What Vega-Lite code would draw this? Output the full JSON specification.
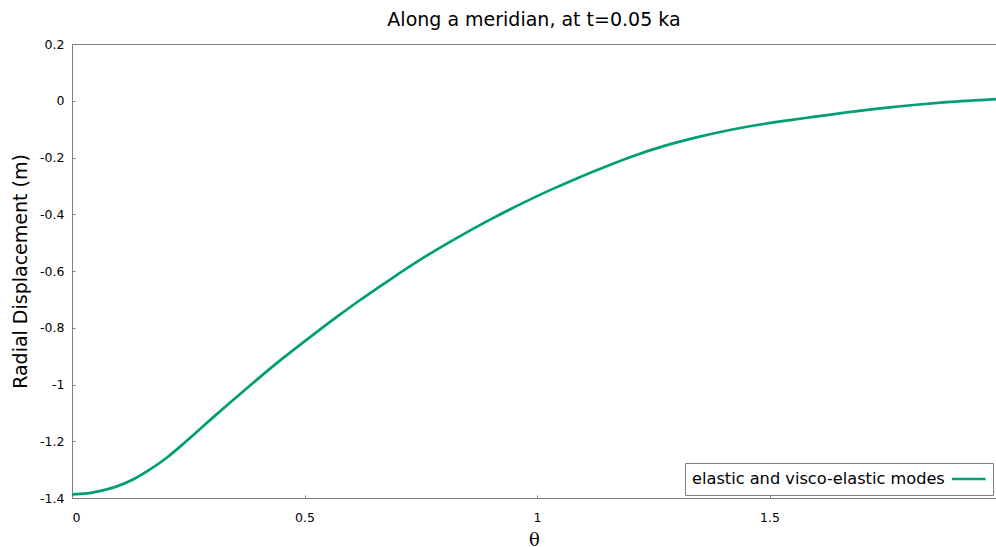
{
  "$schema": "https://vega.github.io/schema/vega-lite/v6.json",
  "width": 924,
  "height": 454,
  "autosize": "none",
  "padding": {"left": 72, "top": 44, "right": 0, "bottom": 49},
  "background": "white",
  "title": {
    "text": "Along a meridian, at t=0.05 ka",
    "font": "DejaVu Sans",
    "fontSize": 19,
    "fontWeight": "normal",
    "color": "#000000",
    "anchor": "middle",
    "offset": 8
  },
  "data": {
    "values": [
      {"theta": 0.000, "disp": -1.387, "series": "elastic and visco-elastic modes"},
      {"theta": 0.032, "disp": -1.384, "series": "elastic and visco-elastic modes"},
      {"theta": 0.059, "disp": -1.376, "series": "elastic and visco-elastic modes"},
      {"theta": 0.095, "disp": -1.360, "series": "elastic and visco-elastic modes"},
      {"theta": 0.131, "disp": -1.335, "series": "elastic and visco-elastic modes"},
      {"theta": 0.167, "disp": -1.300, "series": "elastic and visco-elastic modes"},
      {"theta": 0.203, "disp": -1.259, "series": "elastic and visco-elastic modes"},
      {"theta": 0.238, "disp": -1.211, "series": "elastic and visco-elastic modes"},
      {"theta": 0.267, "disp": -1.169, "series": "elastic and visco-elastic modes"},
      {"theta": 0.304, "disp": -1.115, "series": "elastic and visco-elastic modes"},
      {"theta": 0.376, "disp": -1.013, "series": "elastic and visco-elastic modes"},
      {"theta": 0.447, "disp": -0.916, "series": "elastic and visco-elastic modes"},
      {"theta": 0.519, "disp": -0.824, "series": "elastic and visco-elastic modes"},
      {"theta": 0.576, "disp": -0.754, "series": "elastic and visco-elastic modes"},
      {"theta": 0.612, "disp": -0.711, "series": "elastic and visco-elastic modes"},
      {"theta": 0.684, "disp": -0.630, "series": "elastic and visco-elastic modes"},
      {"theta": 0.755, "disp": -0.554, "series": "elastic and visco-elastic modes"},
      {"theta": 0.827, "disp": -0.484, "series": "elastic and visco-elastic modes"},
      {"theta": 0.899, "disp": -0.419, "series": "elastic and visco-elastic modes"},
      {"theta": 0.970, "disp": -0.360, "series": "elastic and visco-elastic modes"},
      {"theta": 1.028, "disp": -0.315, "series": "elastic and visco-elastic modes"},
      {"theta": 1.057, "disp": -0.294, "series": "elastic and visco-elastic modes"},
      {"theta": 1.128, "disp": -0.245, "series": "elastic and visco-elastic modes"},
      {"theta": 1.200, "disp": -0.199, "series": "elastic and visco-elastic modes"},
      {"theta": 1.272, "disp": -0.160, "series": "elastic and visco-elastic modes"},
      {"theta": 1.343, "disp": -0.129, "series": "elastic and visco-elastic modes"},
      {"theta": 1.415, "disp": -0.103, "series": "elastic and visco-elastic modes"},
      {"theta": 1.487, "disp": -0.082, "series": "elastic and visco-elastic modes"},
      {"theta": 1.544, "disp": -0.068, "series": "elastic and visco-elastic modes"},
      {"theta": 1.594, "disp": -0.057, "series": "elastic and visco-elastic modes"},
      {"theta": 1.666, "disp": -0.041, "series": "elastic and visco-elastic modes"},
      {"theta": 1.738, "disp": -0.027, "series": "elastic and visco-elastic modes"},
      {"theta": 1.809, "disp": -0.015, "series": "elastic and visco-elastic modes"},
      {"theta": 1.881, "disp": -0.005, "series": "elastic and visco-elastic modes"},
      {"theta": 1.987, "disp": 0.006, "series": "elastic and visco-elastic modes"}
    ]
  },
  "mark": {"type": "line", "strokeWidth": 2.7, "interpolate": "monotone", "clip": true},
  "encoding": {
    "x": {
      "field": "theta",
      "type": "quantitative",
      "scale": {"domain": [0, 1.987], "nice": false, "zero": false},
      "axis": {
        "title": "θ",
        "titleFont": "DejaVu Serif",
        "titleFontSize": 18,
        "titleFontWeight": "normal",
        "titlePadding": 8,
        "values": [0, 0.5, 1, 1.5],
        "labelExpr": "datum.value < 0 ? '-' + format(-datum.value, '~g') : format(datum.value, '~g')",
        "tickSize": -3,
        "labelPadding": 16
      }
    },
    "y": {
      "field": "disp",
      "type": "quantitative",
      "scale": {"domain": [-1.4, 0.2], "nice": false, "zero": false},
      "axis": {
        "title": "Radial Displacement (m)",
        "titleFontSize": 19,
        "titleFontWeight": "normal",
        "titlePadding": 9,
        "values": [-1.4, -1.2, -1, -0.8, -0.6, -0.4, -0.2, 0, 0.2],
        "labelExpr": "datum.value < 0 ? '-' + format(-datum.value, '~g') : format(datum.value, '~g')",
        "tickSize": -3,
        "labelPadding": 11
      }
    },
    "color": {
      "field": "series",
      "type": "nominal",
      "scale": {"range": ["#009e73"]},
      "legend": {
        "title": null,
        "orient": "bottom-right",
        "offset": 3,
        "padding": 7,
        "strokeColor": "#808080",
        "fillColor": "white",
        "symbolType": "stroke",
        "symbolSize": 1296,
        "symbolStrokeWidth": 2.7,
        "symbolOffset": 258.5,
        "labelOffset": -297.5,
        "labelExpr": "datum.label + '\u2800\u00a0\u2800\u2800'",
        "labelFontSize": 16.2,
        "labelFont": "DejaVu Sans",
        "labelColor": "#000000",
        "labelLimit": 0,
        "clipHeight": 18
      }
    }
  },
  "config": {
    "font": "DejaVu Sans",
    "view": {"stroke": "#808080", "strokeWidth": 1},
    "axis": {
      "grid": false,
      "domainColor": "#808080",
      "tickColor": "#808080",
      "labelFont": "DejaVu Sans",
      "labelFontSize": 12.5,
      "labelColor": "#000000",
      "titleColor": "#000000",
      "titleFont": "DejaVu Sans"
    }
  }
}
